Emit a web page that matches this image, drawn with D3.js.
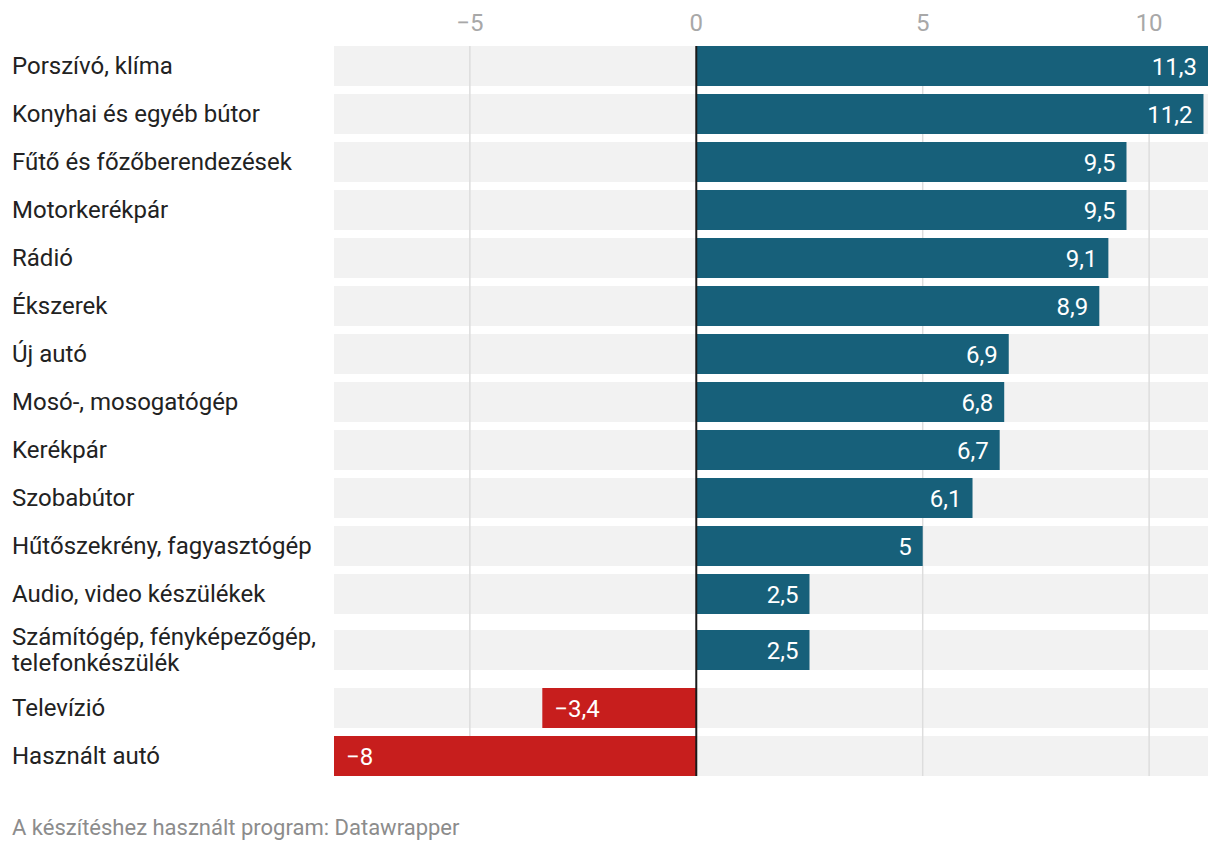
<!DOCTYPE html>
<html><head><meta charset="utf-8">
<script src="https://cdn.jsdelivr.net/npm/d3@7"></script>
<style>body{margin:0;background:#fff;font-family:Roboto,"Noto Sans",sans-serif;}</style>
</head><body><svg id="c" width="1220" height="852"></svg>
<script>
const categories = ["Porszívó, klíma","Konyhai és egyéb bútor","Fűtő és főzőberendezések","Motorkerékpár","Rádió","Ékszerek","Új autó","Mosó-, mosogatógép","Kerékpár","Szobabútor","Hűtőszekrény, fagyasztógép","Audio, video készülékek","Számítógép, fényképezőgép,\ntelefonkészülék","Televízió","Használt autó"];
const values = [11.3,11.2,9.5,9.5,9.1,8.9,6.9,6.8,6.7,6.1,5,2.5,2.5,-3.4,-8];
const tickValues = [-5,0,5,10];
const footer = "A készítéshez használt program: Datawrapper";

const svg = d3.select("#c");
const plotL = 334, plotR = 1208, top0 = 46, barH = 40, step = 48, rowExtra = 24, labelLineH = 26.5;
const x = d3.scaleLinear().domain([-8, 11.3]).range([plotL, plotR]);
const fmt = v => (v < 0 ? "\u2212" : "") + String(Math.abs(v)).replace(".", ",");

// compute row tops based on number of label lines
const lines = categories.map(c => c.split("\n"));
const tops = [];
let cur = top0;
lines.forEach((l, i) => {
  const extra = (l.length - 1) * rowExtra;
  if (extra > 0) cur += 8;
  tops.push(cur);
  cur += step + (extra > 0 ? extra - 14 : 0);
});
const yTop = d3.scaleOrdinal().domain(categories).range(tops);
const bottom = tops[tops.length - 1] + barH;

// background bars
svg.append("g").selectAll("rect").data(categories).join("rect")
  .attr("x", plotL).attr("width", plotR - plotL)
  .attr("y", d => yTop(d)).attr("height", barH).attr("fill", "#f2f2f2");

// grid
svg.append("g").selectAll("line").data(tickValues.filter(t => t !== 0)).join("line")
  .attr("x1", d => x(d)).attr("x2", d => x(d)).attr("y1", top0).attr("y2", bottom)
  .attr("stroke", "#dddddd").attr("stroke-width", 1.5);

// tick labels
svg.append("g").selectAll("text").data(tickValues).join("text")
  .attr("x", d => x(d)).attr("y", 31).attr("text-anchor", "middle")
  .attr("font-size", 24).attr("fill", "#a8a8a8").text(d => fmt(d));

// bars
svg.append("g").selectAll("rect").data(categories).join("rect")
  .attr("x", (d, i) => x(Math.min(0, values[i])))
  .attr("width", (d, i) => Math.abs(x(values[i]) - x(0)))
  .attr("y", d => yTop(d)).attr("height", barH)
  .attr("fill", (d, i) => values[i] < 0 ? "#c71e1d" : "#17607a");

// zero line
svg.append("line").attr("x1", x(0)).attr("x2", x(0)).attr("y1", top0).attr("y2", bottom)
  .attr("stroke", "#1a1a1a").attr("stroke-width", 2);

// value labels
svg.append("g").selectAll("text").data(categories).join("text")
  .attr("x", (d, i) => values[i] < 0 ? x(values[i]) + 12 : x(values[i]) - 11)
  .attr("y", d => yTop(d) + barH / 2 + 9)
  .attr("text-anchor", (d, i) => values[i] < 0 ? "start" : "end")
  .attr("font-size", 24).attr("fill", "#fff").text((d, i) => fmt(values[i]));

// category labels
const lab = svg.append("g").selectAll("text").data(categories).join("text")
  .attr("x", 12).attr("font-size", 24).attr("fill", "#222")
  .attr("y", (d, i) => yTop(d) + barH / 2 + 8 - (lines[i].length - 1) * labelLineH / 2);
lab.each(function(d, i) {
  d3.select(this).selectAll("tspan").data(lines[i]).join("tspan")
    .attr("x", 12).attr("dy", (t, j) => j === 0 ? 0 : labelLineH).text(t => t);
});

// footer
svg.append("text").attr("x", 12).attr("y", 835).attr("font-size", 22)
  .attr("fill", "#8c8c8c").text(footer);
</script></body></html>
